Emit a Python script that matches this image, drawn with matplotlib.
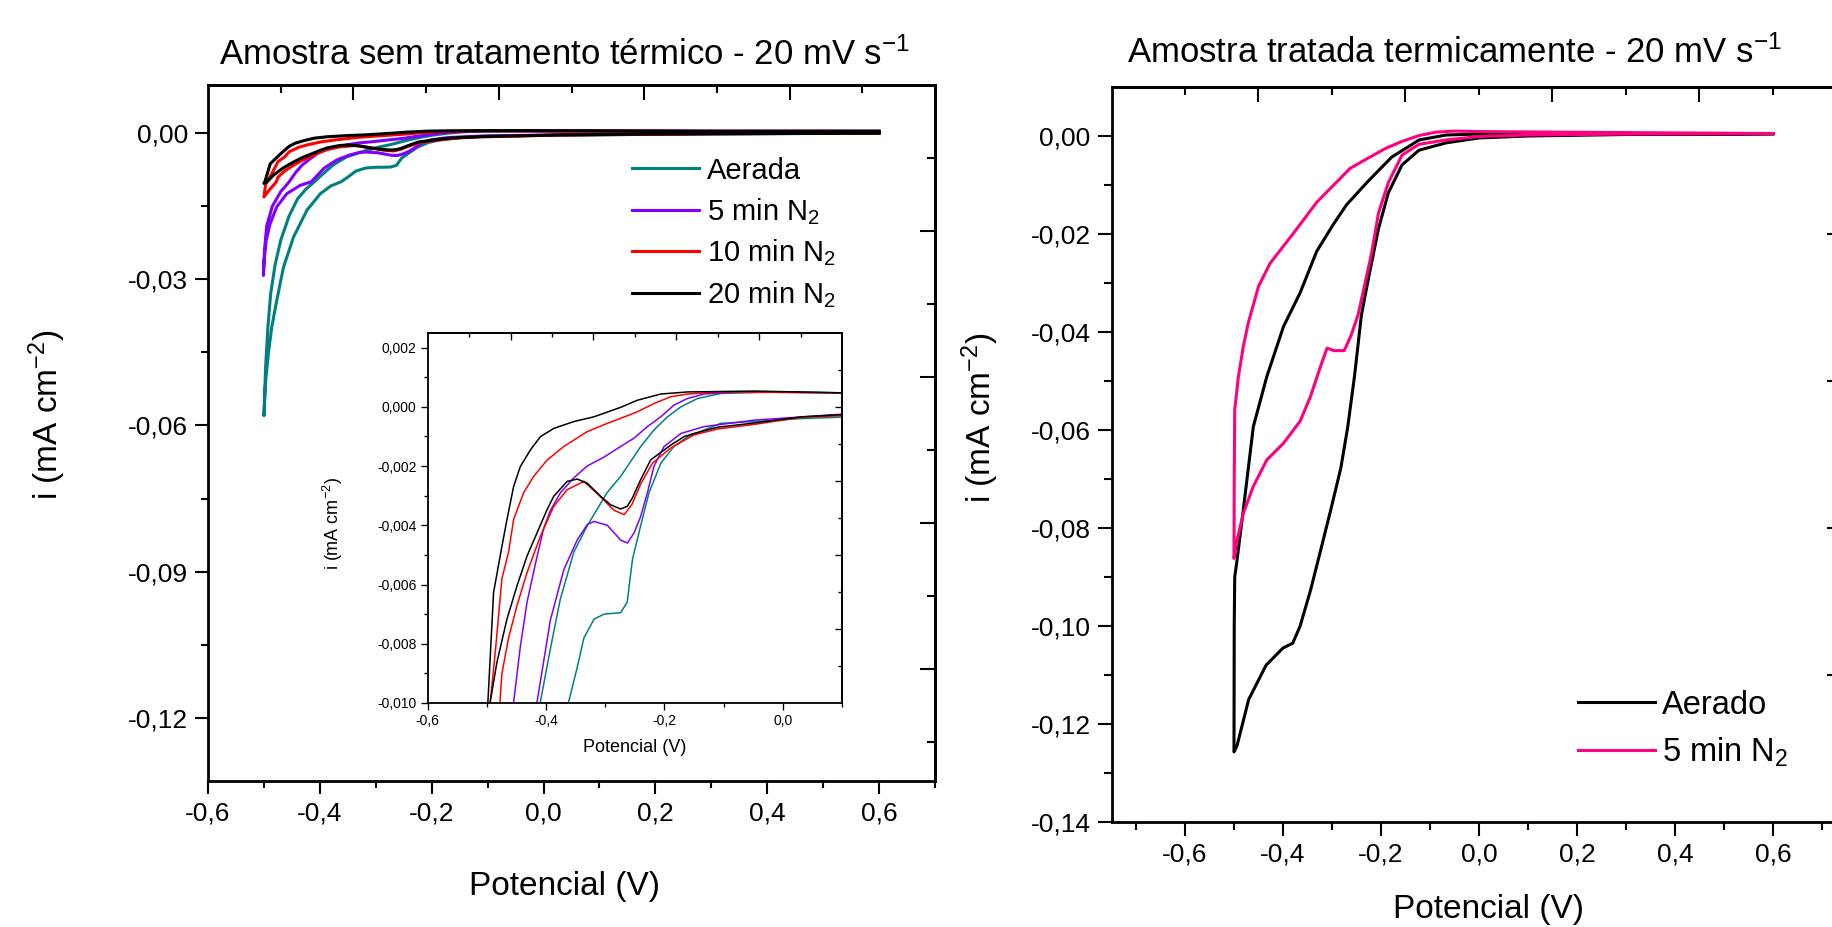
import numpy as np
import matplotlib
matplotlib.use("Agg")
import matplotlib.pyplot as plt
from matplotlib.ticker import FuncFormatter

plt.rcParams['font.family'] = ['Liberation Sans', 'DejaVu Sans']
plt.rcParams['mathtext.fontset'] = 'custom'
plt.rcParams['mathtext.rm'] = 'Liberation Sans'
plt.rcParams['mathtext.it'] = 'Liberation Sans:italic'
plt.rcParams['mathtext.bf'] = 'Liberation Sans:bold'

# ---------------- dados: amostra sem tratamento (varredura catodica + anodica)
aer_E = [0.60, 0.40, 0.20, 0.10, 0.03, -0.05, -0.105, -0.161, -0.184, -0.206, -0.226, -0.240, -0.254,
         -0.263, -0.274, -0.302, -0.319, -0.336, -0.348, -0.362, -0.380, -0.399, -0.423, -0.447, -0.465,
         -0.477, -0.486, -0.492, -0.497, -0.500,
         -0.497, -0.493, -0.488, -0.480, -0.470, -0.455, -0.440, -0.425, -0.410, -0.393, -0.376, -0.353,
         -0.330, -0.297, -0.274, -0.240, -0.2175, -0.195, -0.172, -0.144, -0.1045, 0.0, 0.1, 0.3, 0.6]
aer_i = [0.0, -0.0001, -0.0002, -0.00035, -0.0004, -0.0005, -0.00056, -0.00101, -0.00134, -0.0019, -0.0029,
         -0.0040, -0.00515, -0.0066, -0.00695, -0.0070, -0.00717, -0.0078, -0.00885, -0.00997, -0.0108,
         -0.0124, -0.0158, -0.0213, -0.0275, -0.0343, -0.0398, -0.0452, -0.051, -0.058,
         -0.048, -0.040, -0.033, -0.027, -0.022, -0.017, -0.0135, -0.0115, -0.010, -0.0082, -0.0065, -0.0049,
         -0.0040, -0.0029, -0.00235, -0.00134, -0.00078, -0.00034, 0.0, 0.00028, 0.00045, 0.0005, 0.00047,
         0.0004, 0.0004]

n5_E = [0.60, 0.30, 0.10, 0.065, -0.048, -0.133, -0.172, -0.2006, -0.2175, -0.2288, -0.2401, -0.2514,
        -0.2627, -0.274, -0.2966, -0.3192, -0.3305, -0.3475, -0.370, -0.3927, -0.4153, -0.435, -0.459,
        -0.477, -0.489, -0.496, -0.4996, -0.501,
        -0.499, -0.495, -0.485, -0.470, -0.455, -0.4435, -0.4322, -0.418, -0.404, -0.3927, -0.3757, -0.3531,
        -0.3305, -0.3023, -0.274, -0.2514, -0.2288, -0.2062, -0.1836, -0.161, -0.1328, -0.0763, 0.1, 0.3, 0.6]
n5_i = [0.0, -0.0001, -0.00025, -0.0003, -0.00045, -0.00067, -0.0009, -0.00134, -0.0020, -0.0029, -0.0037,
        -0.00426, -0.0046, -0.0045, -0.0040, -0.00387, -0.00398, -0.0045, -0.0055, -0.0072, -0.00997,
        -0.0107, -0.0124, -0.0151, -0.0186, -0.022, -0.0261, -0.0292,
        -0.024, -0.019, -0.015, -0.012, -0.010, -0.0081, -0.0066, -0.0053, -0.0041, -0.0035, -0.0029,
        -0.0024, -0.0020, -0.0017, -0.00134, -0.00106, -0.00067, -0.00034, 0.00006, 0.00028, 0.00043,
        0.0005, 0.00047, 0.0004, 0.0004]

n10_E = [0.60, 0.30, 0.10, 0.03, -0.05, -0.11, -0.15, -0.19, -0.22, -0.24, -0.255, -0.268, -0.285, -0.31,
         -0.336, -0.3644, -0.387, -0.4096, -0.4322, -0.449, -0.4633, -0.4746, -0.478, -0.490, -0.500,
         -0.497, -0.4915, -0.4859, -0.4746, -0.4633, -0.4548, -0.4379, -0.4209, -0.3983, -0.370, -0.3305,
         -0.2966, -0.274, -0.2458, -0.2175, -0.1893, -0.161, -0.1045, 0.1, 0.3, 0.6]
n10_i = [0.0, -0.0001, -0.0003, -0.00036, -0.0006, -0.00075, -0.00095, -0.0014, -0.0019, -0.0026, -0.0033,
         -0.00364, -0.0035, -0.0030, -0.00252, -0.0028, -0.00336, -0.00437, -0.0056, -0.0067, -0.0078,
         -0.0090, -0.0100, -0.0116, -0.0131,
         -0.0105, -0.0094, -0.0083, -0.0058, -0.0049, -0.0038, -0.0029, -0.00235, -0.0018, -0.00134,
         -0.00084, -0.00056, -0.00039, -0.00017, 0.00011, 0.00034, 0.00043, 0.0005, 0.00047, 0.0004, 0.0004]

n20_E = [0.60, 0.30, 0.1027, 0.031, -0.053, -0.110, -0.150, -0.167, -0.189, -0.2232, -0.2401, -0.2542,
         -0.2627, -0.274, -0.291, -0.3079, -0.3305, -0.3475, -0.3644, -0.387, -0.3983, -0.4153, -0.4322,
         -0.4492, -0.4661, -0.4831, -0.4944, -0.500,
         -0.4983, -0.4887, -0.4746, -0.4661, -0.4548, -0.4435, -0.4266, -0.4096, -0.387, -0.3531, -0.3192,
         -0.274, -0.2458, -0.2062, -0.161, -0.048, 0.1, 0.3, 0.6]
n20_i = [0.0, -0.0001, -0.00026, -0.00034, -0.00056, -0.00069, -0.0009, -0.00101, -0.00129, -0.00179,
         -0.00246, -0.00308, -0.00336, -0.00345, -0.00331, -0.00302, -0.00258, -0.00244, -0.00252, -0.00302,
         -0.00347, -0.00426, -0.00504, -0.00605, -0.00717, -0.00863, -0.00997, -0.0103,
         -0.00997, -0.00627, -0.00471, -0.00381, -0.00269, -0.00202, -0.00146, -0.00101, -0.00073, -0.0005,
         -0.00034, -0.00002, 0.00022, 0.00043, 0.0005, 0.00053, 0.00047, 0.0004, 0.0004]

# ---------------- dados: amostra tratada termicamente
t_aer_E = [0.60, 0.30, 0.10, 0.0, -0.067, -0.1225, -0.157, -0.185, -0.205, -0.226, -0.240, -0.254, -0.268,
           -0.282, -0.302, -0.323, -0.344, -0.365, -0.38, -0.40, -0.4345, -0.47, -0.494, -0.500,
           -0.4995, -0.4985, -0.4946, -0.481, -0.4605, -0.433, -0.399, -0.365, -0.331, -0.297, -0.27,
           -0.226, -0.178, -0.122, -0.067, 0.0, 0.3, 0.6]
t_aer_i = [0.0005, 0.0003, 0.0, -0.0004, -0.0014, -0.0029, -0.0059, -0.0116, -0.0189, -0.0293, -0.0366,
           -0.0490, -0.0595, -0.0678, -0.0761, -0.0845, -0.0928, -0.1000, -0.1035, -0.1045, -0.108, -0.115,
           -0.1245, -0.1257,
           -0.100, -0.090, -0.0872, -0.0763, -0.0593, -0.0491, -0.0389, -0.032, -0.0235, -0.0180, -0.0140,
           -0.0092, -0.0043, -0.0008, 0.0002, 0.0004, 0.0004, 0.0004]

t_n5_E = [0.60, 0.30, 0.10, 0.0, -0.067, -0.1225, -0.157, -0.185, -0.205, -0.2195, -0.233, -0.247, -0.261,
          -0.275, -0.296, -0.310, -0.323, -0.344, -0.365, -0.399, -0.433, -0.461, -0.481, -0.495, -0.500,
          -0.4995, -0.4985, -0.491, -0.481, -0.471, -0.450, -0.4265, -0.379, -0.331, -0.263, -0.226, -0.190,
          -0.157, -0.122, -0.087, -0.05, 0.0, 0.3, 0.6]
t_n5_i = [0.0005, 0.0004, 0.0002, -0.0001, -0.0008, -0.0017, -0.0039, -0.0095, -0.0157, -0.0241, -0.0303,
          -0.0366, -0.0407, -0.0438, -0.0438, -0.0433, -0.0469, -0.0532, -0.0582, -0.0627, -0.0661, -0.0716,
          -0.0770, -0.0831, -0.0862,
          -0.070, -0.0559, -0.0491, -0.0430, -0.0382, -0.0307, -0.0260, -0.0199, -0.0135, -0.0066, -0.0045,
          -0.0025, -0.0011, 0.0001, 0.0008, 0.0010, 0.0009, 0.0007, 0.0005]

left_series = [(aer_E, aer_i, '#008080', 'Aerada'),
               (n5_E, n5_i, '#8000FF', '5 min N$_2$'),
               (n10_E, n10_i, '#FF0000', '10 min N$_2$'),
               (n20_E, n20_i, '#000000', '20 min N$_2$')]
right_series = [(t_aer_E, t_aer_i, '#000000', 'Aerado'),
                (t_n5_E, t_n5_i, '#FF0080', '5 min N$_2$')]

W, H = 1833.0, 927.0


def virg(fmt):
    def f(v, p):
        if abs(v) < 1e-9:
            v = 0.0
        return (fmt % v).replace('.', ',')
    return FuncFormatter(f)


def frame(ax, lw, maj, mnr, fs):
    for s in ax.spines.values():
        s.set_linewidth(lw)
    ax.tick_params(which='both', direction='out', top=False, right=False, width=lw * 0.75,
                   labelsize=fs, pad=5)
    ax.tick_params(which='major', length=maj)
    ax.tick_params(which='minor', length=mnr)


def extra_ticks(ax, topmaj, topmin, rmaj, rmin, lw, maj, mnr):
    # eixos de cima e da direita com marcas para dentro, sem rotulos
    sx = ax.secondary_xaxis('top')
    sx.set_xticks(topmaj)
    sx.set_xticks(topmin, minor=True)
    sx.tick_params(which='both', direction='in', labeltop=False, width=lw * 0.75)
    sx.tick_params(which='major', length=maj)
    sx.tick_params(which='minor', length=mnr)
    sx.spines['top'].set_linewidth(lw)
    sy = ax.secondary_yaxis('right')
    sy.set_yticks(rmaj)
    sy.set_yticks(rmin, minor=True)
    sy.tick_params(which='both', direction='in', labelright=False, width=lw * 0.75)
    sy.tick_params(which='major', length=maj)
    sy.tick_params(which='minor', length=mnr)
    sy.spines['right'].set_linewidth(lw)


fig = plt.figure(figsize=(W / 100, H / 100), dpi=100)

# ---------------- painel esquerdo
ax1 = fig.add_axes([208 / W, 1 - 781 / H, 727 / W, 696 / H])
for E, i, c, lab in left_series:
    ax1.plot(E, i, color=c, lw=2.2, label=lab)
ax1.set_xlim(-0.6, 0.7)
ax1.set_ylim(-0.133, 0.0099)
ax1.set_xticks([-0.6, -0.4, -0.2, 0.0, 0.2, 0.4, 0.6])
ax1.set_xticks([-0.5, -0.3, -0.1, 0.1, 0.3, 0.5, 0.7], minor=True)
ax1.set_yticks([0.0, -0.03, -0.06, -0.09, -0.12])
ax1.set_yticks([-0.015, -0.045, -0.075, -0.105], minor=True)
ax1.xaxis.set_major_formatter(virg('%.1f'))
ax1.yaxis.set_major_formatter(virg('%.2f'))
frame(ax1, 2.0, 9.5, 5, 19)
extra_ticks(ax1, [-0.34, -0.08, 0.18, 0.44], [-0.47, -0.21, 0.05, 0.31, 0.57],
            [-0.02, -0.05, -0.08, -0.11], [-0.005, -0.035, -0.065, -0.095, -0.125], 2.0, 11, 6)
ax1.set_xlabel('Potencial (V)', fontsize=24, va='center', ha='center')
ax1.xaxis.set_label_coords(0.491, -0.151)
ax1.set_ylabel('i (mA cm$^{-2}$)', fontsize=24, va='center', ha='center')
ax1.yaxis.set_label_coords(-0.2215, 0.526)
ax1.legend(loc='upper left', bbox_to_anchor=(0.583, 0.897), frameon=False, fontsize=21,
           handlelength=2.3, handletextpad=0.27, labelspacing=0.38, borderpad=0, borderaxespad=0)

# inset
axin = fig.add_axes([427.7 / W, 1 - 703 / H, 414.3 / W, 370.3 / H])
for E, i, c, lab in left_series:
    axin.plot(E, i, color=c, lw=1.1)
axin.set_xlim(-0.6, 0.1)
axin.set_ylim(-0.010, 0.0025)
axin.set_xticks([-0.6, -0.4, -0.2, 0.0])
axin.set_xticks([-0.5, -0.3, -0.1, 0.1], minor=True)
axin.set_yticks([0.002, 0.0, -0.002, -0.004, -0.006, -0.008, -0.010])
axin.set_yticks([0.001, -0.001, -0.003, -0.005, -0.007, -0.009], minor=True)
axin.xaxis.set_major_formatter(virg('%.1f'))
axin.yaxis.set_major_formatter(virg('%.3f'))
frame(axin, 1.3, 5, 3, 10)
axin.tick_params(pad=3)
extra_ticks(axin, [-0.46, -0.32, -0.18, -0.04], [-0.53, -0.39, -0.25, -0.11, 0.03],
            [0.0, -0.0025, -0.005, -0.0075], [0.00125, -0.00125, -0.00375, -0.00625, -0.00875], 1.3, 5, 3)
axin.set_xlabel('Potencial (V)', fontsize=13, va='center', ha='center')
axin.xaxis.set_label_coords(0.5, -0.12)
axin.set_ylabel('i (mA cm$^{-2}$)', fontsize=13, va='center', ha='center')
axin.yaxis.set_label_coords(-0.229, 0.486)

# ---------------- painel direito
ax2 = fig.add_axes([1111.5 / W, 1 - 822 / H, 730 / W, 735 / H])
for E, i, c, lab in right_series:
    ax2.plot(E, i, color=c, lw=2.2, label=lab)
ax2.set_xlim(-0.75, 0.74)
ax2.set_ylim(-0.14, 0.01)
ax2.set_xticks([-0.6, -0.4, -0.2, 0.0, 0.2, 0.4, 0.6])
ax2.set_xticks([-0.7, -0.5, -0.3, -0.1, 0.1, 0.3, 0.5, 0.7], minor=True)
ax2.set_yticks([0.0, -0.02, -0.04, -0.06, -0.08, -0.10, -0.12, -0.14])
ax2.set_yticks([-0.01, -0.03, -0.05, -0.07, -0.09, -0.11, -0.13], minor=True)
ax2.xaxis.set_major_formatter(virg('%.1f'))
ax2.yaxis.set_major_formatter(virg('%.2f'))
frame(ax2, 2.0, 10, 6, 19)
extra_ticks(ax2, [-0.45, -0.15, 0.15, 0.45], [-0.6, -0.3, 0.0, 0.3, 0.6],
            [-0.02, -0.05, -0.08, -0.11], [-0.005, -0.035, -0.065, -0.095, -0.125], 2.0, 11, 6)
ax2.set_xlabel('Potencial (V)', fontsize=24, va='center', ha='center')
ax2.xaxis.set_label_coords(0.517, -0.119)
ax2.set_ylabel('i (mA cm$^{-2}$)', fontsize=24, va='center', ha='center')
ax2.yaxis.set_label_coords(-0.180, 0.550)
ax2.legend(loc='upper left', bbox_to_anchor=(0.639, 0.180), frameon=False, fontsize=23.5,
           handlelength=2.36, handletextpad=0.21, labelspacing=0.45, borderpad=0, borderaxespad=0)

fig.text(565 / W, 1 - 55 / H, 'Amostra sem tratamento térmico - 20 mV s$^{-1}$', fontsize=25,
         ha='center', va='center')
fig.text(1454 / W, 1 - 53 / H, 'Amostra tratada termicamente - 20 mV s$^{-1}$', fontsize=25,
         ha='center', va='center')

fig.savefig('out.png', dpi=100)
